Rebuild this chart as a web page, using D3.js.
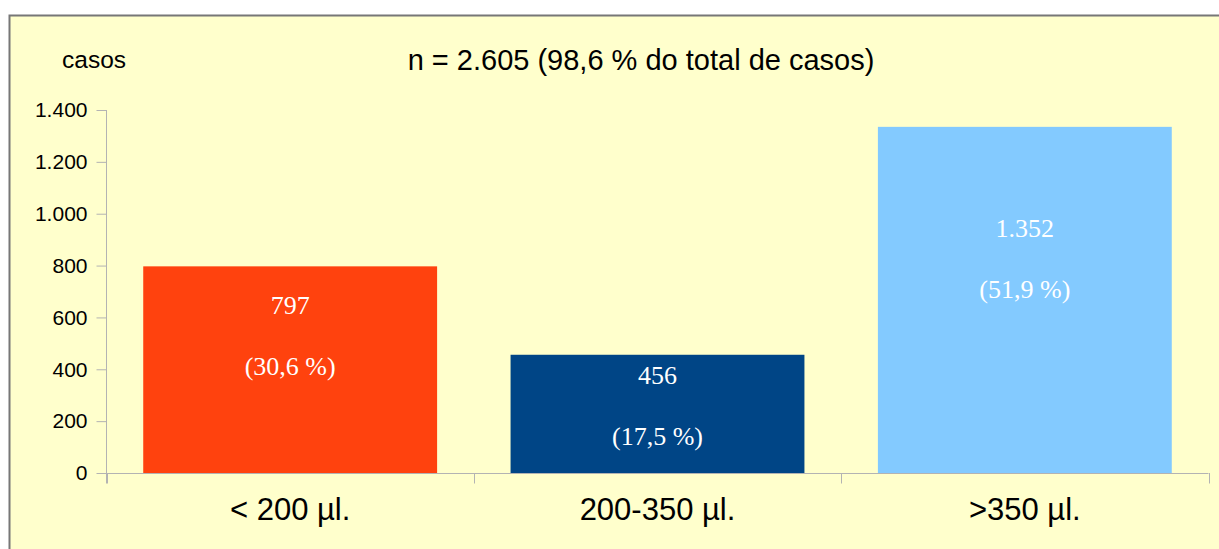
<!DOCTYPE html>
<html>
<head>
<meta charset="utf-8">
<script src="https://cdn.jsdelivr.net/npm/d3@7"></script>
<style>
  body { margin: 0; background: #ffffff; }
  svg { display: block; }
  text { font-family: "Liberation Sans", Arial, sans-serif; }
</style>
</head>
<body>
<div id="chart-container"></div>
<script>
// data
const categorias = ["< 200 µl.", "200-350 µl.", ">350 µl."];
const alturas = [797, 456, 1335];          // bar heights as drawn
const rotulos = ["797", "456", "1.352"];    // value labels
const percentuais = ["(30,6 %)", "(17,5 %)", "(51,9 %)"];
const yTicks = [0, 200, 400, 600, 800, 1000, 1200, 1400];
const cores = ["#ff420e", "#004586", "#83caff"];

const width = 1219, height = 549;

const svg = d3.select("#chart-container")
    .append("svg")
    .attr("width", width)
    .attr("height", height);

// chart background + border
svg.append("rect")
    .attr("x", 9.5).attr("y", 15.5)
    .attr("width", width + 10).attr("height", height + 10)
    .attr("fill", "#ffffcc")
    .attr("stroke", "#777777")
    .attr("stroke-width", 2);

const x = d3.scaleBand()
    .domain(categorias)
    .range([106.5, 1208.5])
    .paddingInner(0.2)
    .paddingOuter(0.1);

const y = d3.scaleLinear()
    .domain([0, 1400])
    .range([473, 110]);

// bars
svg.selectAll(".bar")
    .data(alturas)
    .enter().append("rect")
    .attr("class", "bar")
    .attr("x", (d, i) => x(categorias[i]))
    .attr("y", d => y(d))
    .attr("width", x.bandwidth())
    .attr("height", d => y(0) - y(d))
    .attr("fill", (d, i) => cores[i]);

// y axis
const yAxis = d3.axisLeft(y)
    .tickValues(yTicks)
    .tickSize(10)
    .tickPadding(9)
    .tickFormat(d => d3.format(",")(d).replace(/,/g, "."));

const gy = svg.append("g")
    .attr("transform", "translate(106.5,0)")
    .call(yAxis);
gy.select(".domain").attr("stroke", "#b3b3b3").attr("d", "M0,110V483.5");
gy.selectAll(".tick line").attr("stroke", "#b3b3b3");
gy.selectAll(".tick text")
    .attr("fill", "#000")
    .style("font-size", "21px")
    .style("font-family", "Liberation Sans, Arial, sans-serif");

// x axis: line + ticks at band boundaries
const bordas = categorias.map(c => x(c) - x.step() * x.paddingInner() / 2);
bordas.push(x.range()[1]);
svg.append("line")
    .attr("x1", x.range()[0]).attr("x2", x.range()[1])
    .attr("y1", y(0) + 0.5).attr("y2", y(0) + 0.5)
    .attr("stroke", "#b3b3b3");
svg.selectAll(".xtick")
    .data(bordas)
    .enter().append("line")
    .attr("class", "xtick")
    .attr("x1", d => Math.round(d) + 0.5).attr("x2", d => Math.round(d) + 0.5)
    .attr("y1", y(0)).attr("y2", y(0) + 10.5)
    .attr("stroke", "#b3b3b3");

svg.selectAll(".xlabel")
    .data(categorias)
    .enter().append("text")
    .attr("class", "xlabel")
    .attr("x", d => x(d) + x.bandwidth() / 2)
    .attr("y", 520)
    .attr("text-anchor", "middle")
    .style("font-size", "31px")
    .text(d => d);

// bar labels (value + percentage), offsets from bar top
const labelDy = [48, 29, 110];
const rotG = svg.selectAll(".rot")
    .data(alturas)
    .enter().append("g")
    .attr("class", "rot")
    .attr("transform", (d, i) => `translate(${x(categorias[i]) + x.bandwidth() / 2},${y(d) + labelDy[i]})`);
rotG.append("text")
    .attr("text-anchor", "middle")
    .attr("fill", "#ffffff")
    .style("font-family", "Liberation Serif, Times New Roman, serif")
    .style("font-size", "26px")
    .text((d, i) => rotulos[i]);
rotG.append("text")
    .attr("y", 61)
    .attr("text-anchor", "middle")
    .attr("fill", "#ffffff")
    .style("font-family", "Liberation Serif, Times New Roman, serif")
    .style("font-size", "26px")
    .text((d, i) => percentuais[i]);

// axis unit + title
svg.append("text")
    .attr("x", 62).attr("y", 68)
    .style("font-size", "24.5px")
    .text("casos");

svg.append("text")
    .attr("x", 641).attr("y", 70)
    .attr("text-anchor", "middle")
    .style("font-size", "29px")
    .text("n = 2.605 (98,6 % do total de casos)");
</script>
</body>
</html>
